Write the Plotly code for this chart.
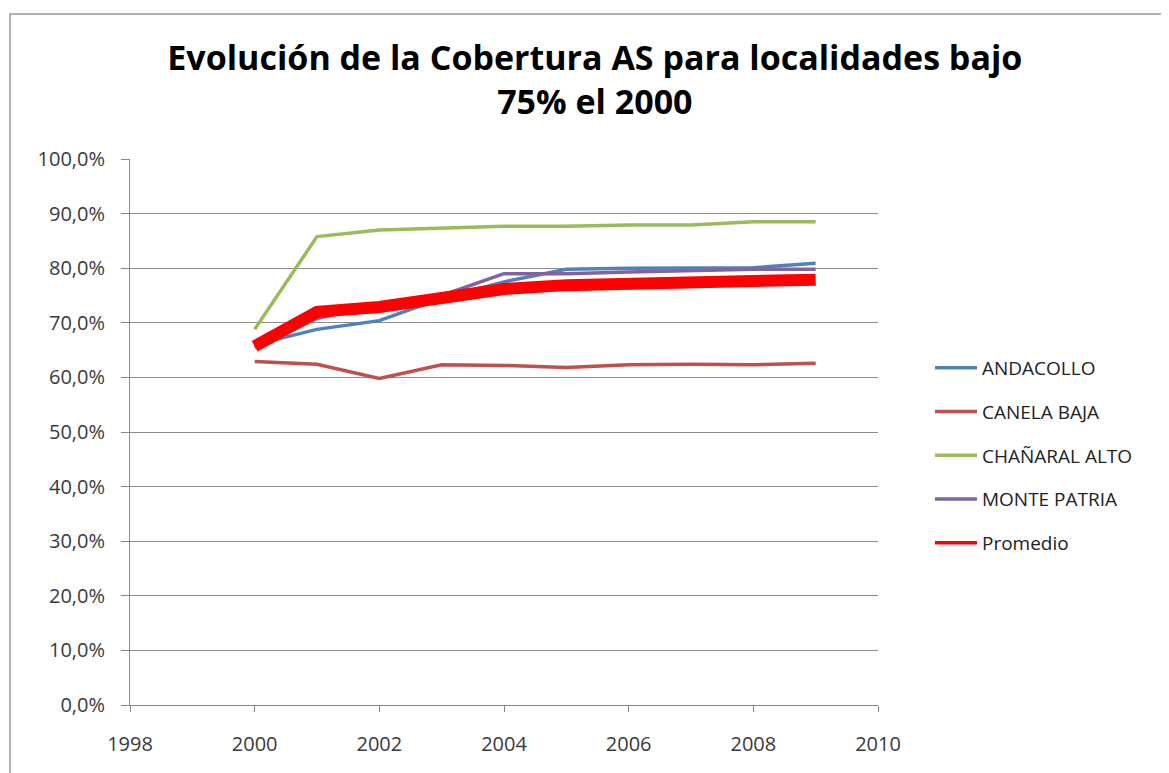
import plotly.graph_objects as go

years = [2000, 2001, 2002, 2003, 2004, 2005, 2006, 2007, 2008, 2009]

andacollo = [0.660, 0.688, 0.704, 0.745, 0.775, 0.798, 0.800, 0.800, 0.801, 0.809]
canela_baja = [0.629, 0.624, 0.598, 0.623, 0.622, 0.618, 0.623, 0.624, 0.623, 0.626]
chanaral_alto = [0.688, 0.858, 0.870, 0.873, 0.877, 0.877, 0.879, 0.879, 0.885, 0.885]
monte_patria = [0.655, 0.708, 0.735, 0.750, 0.790, 0.790, 0.793, 0.796, 0.798, 0.798]
promedio = [0.657, 0.720, 0.729, 0.746, 0.762, 0.769, 0.772, 0.774, 0.777, 0.779]

series = [
    ("ANDACOLLO", andacollo, "#4F81BD"),
    ("CANELA BAJA", canela_baja, "#C0504D"),
    ("CHAÑARAL ALTO", chanaral_alto, "#9BBB59"),
    ("MONTE PATRIA", monte_patria, "#8064A2"),
]

fig = go.Figure()
for name, vals, color in series:
    fig.add_trace(go.Scatter(x=years, y=vals, name=name, mode="lines",
                             legendgroup=name,
                             line=dict(color=color, width=3.5)))

# thick average line; legend entry drawn by a thin proxy
fig.add_trace(go.Scatter(x=years, y=promedio, name="Promedio", mode="lines",
                         showlegend=False,
                         line=dict(color="#FF0000", width=12)))
fig.add_trace(go.Scatter(x=[None], y=[None], name="Promedio", mode="lines",
                         legendgroup="Promedio",
                         line=dict(color="#FF0000", width=3.5)))

tick_font = dict(family="Open Sans", size=20, color="#3a3a3a")

fig.update_layout(
    width=1169, height=773,
    margin=dict(l=122, r=299, t=151, b=76),
    paper_bgcolor="white", plot_bgcolor="white",
    separators=",.",
    font=dict(family="Open Sans", size=18, color="#222"),
    title=dict(text="<b>Evolución de la Cobertura AS para localidades bajo<br>75% el 2000</b>",
               x=0.502, xanchor="center", xref="container",
               y=1 - 62 / 773, yanchor="middle", yref="container",
               font=dict(family="Open Sans", size=34, color="black")),
    legend=dict(x=1.0695, y=0.652, xanchor="left", yanchor="top",
                tracegroupgap=16, itemwidth=42,
                font=dict(size=19, color="#222"),
                bgcolor="rgba(0,0,0,0)"),
    xaxis=dict(range=[1998, 2010], dtick=2, tick0=1998,
               showgrid=False, showline=True, linecolor="#888",
               ticks="outside", ticklen=6, tickcolor="#888",
               ticklabelstandoff=15,
               tickfont=tick_font, zeroline=False),
    yaxis=dict(range=[0, 1], dtick=0.1, tickformat=".1%",
               showgrid=True, gridcolor="#8c8c8c", gridwidth=1,
               showline=True, linecolor="#888",
               ticks="outside", ticklen=8, tickcolor="#888",
               ticklabelstandoff=12,
               tickfont=tick_font, zeroline=False),
    shapes=[dict(type="rect", xref="paper", yref="paper",
                 x0=-0.1604, x1=1.42, y0=-0.16, y1=1.2656,
                 line=dict(color="#999", width=1.5), layer="below")],
)

fig.write_html("out.html")
